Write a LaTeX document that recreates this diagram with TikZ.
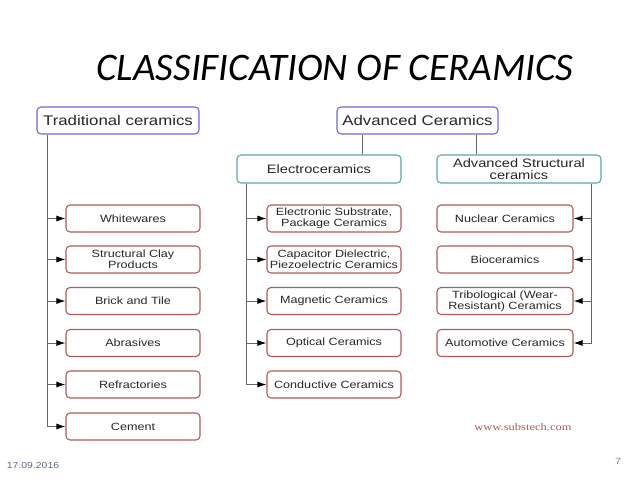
\documentclass[tikz,border=0pt]{standalone}
\usepackage{fontspec}
\setmainfont{Liberation Sans}[FakeStretch=1.2]
\newfontfamily\titlefont{Carlito}
\newfontfamily\webfont{Liberation Serif}[FakeStretch=1.25]
\usetikzlibrary{arrows.meta}
\definecolor{topblue}{HTML}{6A6AD6}
\definecolor{midteal}{HTML}{5AA8A8}
\definecolor{subred}{HTML}{B05A5A}
\definecolor{linegray}{HTML}{666666}
\definecolor{txtgray}{HTML}{262626}
\definecolor{dateblue}{HTML}{5A6A8A}
\begin{document}
\begin{tikzpicture}[
  x=1pt,y=-1pt,
  topbox/.style={rectangle,draw=topblue,line width=1.1pt,rounded corners=4pt,minimum height=27pt,
    inner sep=0pt,text=txtgray,font=\fontsize{14}{15}\selectfont},
  midbox/.style={rectangle,draw=midteal,line width=1.1pt,rounded corners=4pt,minimum width=164pt,minimum height=28pt,
    inner sep=0pt,align=center,text=txtgray,font=\fontsize{12.2}{12.7}\selectfont},
  subbox/.style={rectangle,draw=subred,line width=1.1pt,rounded corners=4pt,minimum width=134pt,minimum height=27pt,
    inner sep=0pt,align=center,text=txtgray,font=\fontsize{10.5}{11}\selectfont},
  trunk/.style={draw=linegray,line width=0.9pt},
  arrow/.style={trunk,-{Latex[length=9pt,width=6pt,black]}}
]
\useasboundingbox (0,0) rectangle (638,479);

% title
\node[anchor=base,font=\titlefont\itshape\fontsize{39}{41}\selectfont] (title) at (335,80) {CLASSIFICATION OF CERAMICS};

% top level
\node[topbox,minimum width=162pt] (trad) at (118,120.5) {Traditional ceramics};
\node[topbox,minimum width=161pt] (adv) at (417.5,120.5) {Advanced Ceramics};
\node[midbox] (elec) at (319,169) {Electroceramics};
\node[midbox] (struc) at (519,169) {Advanced Structural\\ceramics};

% traditional
\node[subbox] (t1) at (133,218.5) {Whitewares};
\node[subbox] (t2) at (133,259.5) {Structural Clay\\Products};
\node[subbox] (t3) at (133,301) {Brick and Tile};
\node[subbox] (t4) at (133,343) {Abrasives};
\node[subbox] (t5) at (133,384.5) {Refractories};
\node[subbox] (t6) at (133,426.5) {Cement};

% electroceramics
\node[subbox] (e1) at (334,218.5) {Electronic Substrate,\\Package Ceramics};
\node[subbox] (e2) at (334,259.5) {Capacitor Dielectric,\\Piezoelectric Ceramics};
\node[subbox] (e3) at (334,301) {Magnetic Ceramics};
\node[subbox] (e4) at (334,343) {Optical Ceramics};
\node[subbox] (e5) at (334,384.5) {Conductive Ceramics};

% structural
\node[subbox,minimum width=136pt] (s1) at (505,218.5) {Nuclear Ceramics};
\node[subbox,minimum width=136pt] (s2) at (505,259.5) {Bioceramics};
\node[subbox,minimum width=136pt] (s3) at (505,301) {Tribological (Wear-\\Resistant) Ceramics};
\node[subbox,minimum width=136pt] (s4) at (505,343) {Automotive Ceramics};

% connectors
\coordinate (tl) at ([xshift=11pt]trad.south west);
\coordinate (el) at ([xshift=10pt]elec.south west);
\coordinate (sl) at ([xshift=-10pt]struc.south east);
\coordinate (a1) at ([xshift=26pt]adv.south west);
\coordinate (a2) at ([xshift=-22pt]adv.south east);
\draw[trunk] (a1) -- (a1 |- elec.north);
\draw[trunk] (a2) -- (a2 |- struc.north);
\draw[trunk] (tl) -- (tl |- t6.west);
\draw[trunk] (el) -- (el |- e5.west);
\draw[trunk] (sl) -- (sl |- s4.east);
\foreach \i in {1,...,6} \draw[arrow] (tl |- t\i.west) -- (t\i.west);
\foreach \i in {1,...,5} \draw[arrow] (el |- e\i.west) -- (e\i.west);
\foreach \i in {1,...,4} \draw[arrow] (sl |- s\i.east) -- (s\i.east);

% footer
\node[text=subred!90!red,font=\webfont\fontsize{10}{12}\selectfont] (web) at (523,427) {www.substech.com};
\node[text=dateblue,font=\fontsize{8.7}{10}\selectfont] (date) at (33,466) {17.09.2016};
\node[text=gray,font=\fontsize{9}{10}\selectfont] (page) at (618,461) {7};
\end{tikzpicture}
\end{document}
